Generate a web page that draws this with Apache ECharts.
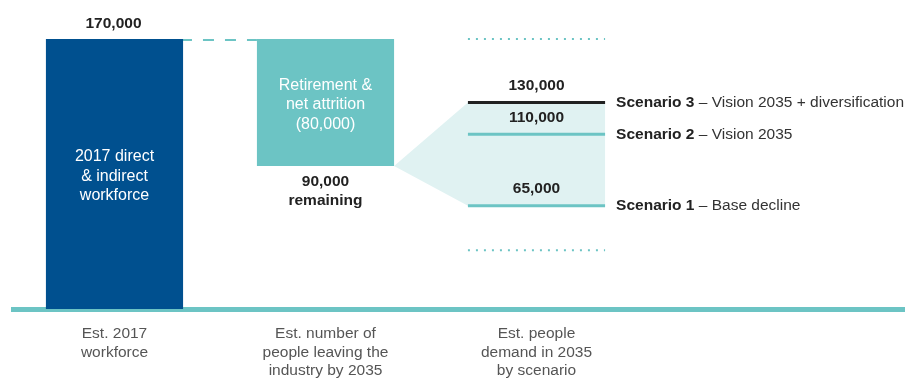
<!DOCTYPE html>
<html>
<head>
<meta charset="utf-8">
<script src="https://cdn.jsdelivr.net/npm/echarts@6.0.0/dist/echarts.min.js"></script>
<style>
  html, body { margin: 0; padding: 0; background: #fff; }
  #chart { width: 905px; height: 378px; }
</style>
</head>
<body>
<div id="chart"></div>
<script>
// Workforce bridge: 2017 workforce -> attrition -> 2035 demand scenarios
const stages = [
  'Est. 2017\nworkforce',
  'Est. number of\npeople leaving the\nindustry by 2035',
  'Est. people\ndemand in 2035\nby scenario'
];
const workforce2017 = 170000;
const attrition = 80000;
const remaining = 90000;
const columnTexts = ['2017 direct\n& indirect\nworkforce', 'Retirement &\nnet attrition\n(80,000)'];
const scenarioNames = ['Scenario 1', 'Scenario 2', 'Scenario 3'];
const scenarioDescs = ['Base decline', 'Vision 2035', 'Vision 2035 + diversification'];
const scenarioDemand = [65000, 110000, 130000];
const demandGuides = [170000, 37000];

const FONT = "'Liberation Sans', Arial, Helvetica, sans-serif";
const BLUE = '#00508f';
const TEAL = '#6cc4c4';
const PALE = '#e0f2f2';
const INK = '#222222';
const HALF = 0.325; // half column width, in category units

const fmt = v => v.toLocaleString('en-US');

const chart = echarts.init(document.getElementById('chart'));

// [category, low, high]
const columnData = [
  [0, 0, workforce2017],
  [1, workforce2017 - attrition, workforce2017]
];

chart.setOption({
  animation: false,
  grid: { left: 11, right: 0, top: 39, bottom: 69, outerBoundsMode: 'none', containLabel: false },
  xAxis: {
    type: 'value',
    min: -0.4905,
    max: 3.7464,
    offset: 2.5,
    splitLine: { show: false },
    axisTick: { show: false },
    axisLine: { show: true, lineStyle: { color: TEAL, width: 5, cap: 'butt' } },
    axisLabel: {
      customValues: [0, 1, 2],
      formatter: v => stages[Math.round(v)] || '',
      color: '#555',
      fontFamily: FONT,
      fontSize: 15.5,
      lineHeight: 18.5,
      margin: 13,
      align: 'center',
      verticalAlign: 'top'
    }
  },
  yAxis: {
    type: 'value',
    min: 0,
    max: 170000,
    show: false,
    splitLine: { show: false }
  },
  series: [
    {
      // fan from the remaining workforce to the scenario range
      type: 'custom',
      name: 'range',
      data: [[1, remaining, 2, Math.max(...scenarioDemand), Math.min(...scenarioDemand)]],
      renderItem(params, api) {
        const from = api.value(0), rem = api.value(1), to = api.value(2);
        const hi = api.value(3), lo = api.value(4);
        const pts = [
          api.coord([from + HALF, rem]),
          api.coord([to - HALF, hi]),
          api.coord([to + HALF, hi]),
          api.coord([to + HALF, lo]),
          api.coord([to - HALF, lo])
        ];
        return { type: 'polygon', shape: { points: pts }, style: { fill: PALE } };
      },
      z: 1
    },
    {
      // dotted guides across the scenario column
      type: 'custom',
      name: 'guides',
      data: demandGuides.map(v => [2, v]),
      renderItem(params, api) {
        const x = api.value(0), v = api.value(1);
        const a = api.coord([x - HALF, v]);
        const b = api.coord([x + HALF, v]);
        return {
          type: 'line',
          shape: { x1: a[0], y1: a[1], x2: b[0], y2: b[1] },
          style: { stroke: TEAL, lineWidth: 2, lineDash: [2, 6] }
        };
      },
      z: 2
    },
    {
      // dashed connector between the two columns
      type: 'custom',
      name: 'connector',
      data: [[0, 1, workforce2017]],
      renderItem(params, api) {
        const a = api.coord([api.value(0) + HALF - 0.01, api.value(2)]);
        const b = api.coord([api.value(1) - HALF, api.value(2)]);
        return {
          type: 'line',
          shape: { x1: a[0], y1: a[1] + 1, x2: b[0], y2: b[1] + 1 },
          style: { stroke: TEAL, lineWidth: 2, lineDash: [11, 11] }
        };
      },
      z: 2
    },
    {
      // workforce and attrition columns
      type: 'custom',
      name: 'columns',
      data: columnData,
      renderItem(params, api) {
        const x = api.value(0), lo = api.value(1), hi = api.value(2);
        const i = params.dataIndex;
        const p1 = api.coord([x - HALF, hi]);
        const p2 = api.coord([x + HALF, lo]);
        const cx = (p1[0] + p2[0]) / 2;
        const children = [
          {
            type: 'rect',
            shape: { x: p1[0], y: p1[1], width: p2[0] - p1[0], height: p2[1] - p1[1] },
            style: { fill: i === 0 ? BLUE : TEAL }
          },
          {
            type: 'text',
            style: {
              text: columnTexts[i],
              x: cx,
              y: (p1[1] + p2[1]) / 2 + 2.5,
              align: 'center',
              verticalAlign: 'middle',
              fill: '#fff',
              fontFamily: FONT,
              fontSize: 16,
              lineHeight: 19.5
            }
          }
        ];
        if (i === 0) {
          children.push({
            type: 'text',
            style: {
              text: fmt(hi),
              x: cx - 1,
              y: p1[1] - 15,
              align: 'center',
              verticalAlign: 'middle',
              fill: INK,
              fontFamily: FONT,
              fontWeight: 'bold',
              fontSize: 15.5
            }
          });
        } else {
          children.push({
            type: 'text',
            style: {
              text: fmt(lo) + '\nremaining',
              x: cx,
              y: p2[1] + 6,
              align: 'center',
              verticalAlign: 'top',
              fill: INK,
              fontFamily: FONT,
              fontWeight: 'bold',
              fontSize: 15.5,
              lineHeight: 19
            }
          });
        }
        return { type: 'group', children };
      },
      z: 3
    },
    {
      // scenario demand lines with values and descriptions
      type: 'custom',
      name: 'scenarios',
      data: scenarioDemand.map((v, i) => [2, v, i]),
      renderItem(params, api) {
        const x = api.value(0), v = api.value(1), i = api.value(2);
        const a = api.coord([x - HALF, v]);
        const b = api.coord([x + HALF, v]);
        return {
          type: 'group',
          children: [
            {
              type: 'line',
              shape: { x1: a[0], y1: a[1], x2: b[0], y2: b[1] },
              style: { stroke: i === 2 ? INK : TEAL, lineWidth: 3 }
            },
            {
              type: 'text',
              style: {
                text: fmt(v),
                x: (a[0] + b[0]) / 2,
                y: a[1] - 17,
                align: 'center',
                verticalAlign: 'middle',
                fill: INK,
                fontFamily: FONT,
                fontWeight: 'bold',
                fontSize: 15.5
              }
            },
            {
              type: 'text',
              style: {
                text: '{b|' + scenarioNames[i] + '} – ' + scenarioDescs[i],
                x: b[0] + 11,
                y: a[1],
                align: 'left',
                verticalAlign: 'middle',
                fill: '#333',
                fontFamily: FONT,
                fontSize: 15.5,
                rich: {
                  b: { fontFamily: FONT, fontSize: 15.5, fontWeight: 'bold', fill: INK }
                }
              }
            }
          ]
        };
      },
      z: 4
    }
  ]
});
</script>
</body>
</html>
